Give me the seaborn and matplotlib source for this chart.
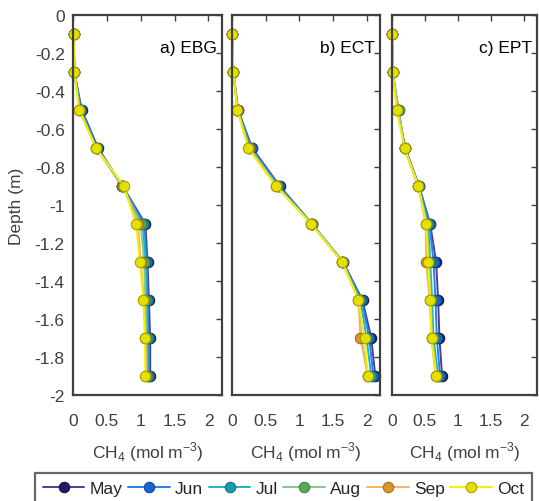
import matplotlib
matplotlib.use("Agg")
import matplotlib.pyplot as plt
import numpy as np
import pandas as pd
import seaborn as sns

# Sampling depths (m)
depths = [-0.1, -0.3, -0.5, -0.7, -0.9, -1.1, -1.3, -1.5, -1.7, -1.9]
months = ["May", "Jun", "Jul", "Aug", "Sep", "Oct"]
sites = ["a) EBG", "b) ECT", "c) EPT"]

# CH4 concentration profiles (mol m-3), one list per month
ebg_may = [0.01, 0.02, 0.13, 0.37, 0.73, 1.07, 1.10, 1.12, 1.14, 1.14]
ebg_jun = [0.01, 0.02, 0.12, 0.36, 0.73, 1.05, 1.09, 1.10, 1.12, 1.12]
ebg_jul = [0.01, 0.02, 0.11, 0.35, 0.72, 1.03, 1.07, 1.09, 1.10, 1.11]
ebg_aug = [0.01, 0.02, 0.10, 0.34, 0.73, 1.00, 1.05, 1.07, 1.08, 1.09]
ebg_sep = [0.01, 0.02, 0.09, 0.34, 0.74, 0.96, 1.00, 1.05, 1.07, 1.08]
ebg_oct = [0.01, 0.02, 0.09, 0.34, 0.75, 0.93, 0.99, 1.04, 1.06, 1.07]

ect_may = [0.00, 0.02, 0.09, 0.30, 0.71, 1.19, 1.65, 1.94, 2.07, 2.13]
ect_jun = [0.00, 0.02, 0.09, 0.29, 0.70, 1.19, 1.65, 1.93, 2.04, 2.10]
ect_jul = [0.00, 0.02, 0.08, 0.27, 0.68, 1.19, 1.64, 1.91, 2.00, 2.07]
ect_aug = [0.00, 0.02, 0.08, 0.26, 0.67, 1.18, 1.64, 1.89, 1.92, 2.02]
ect_sep = [0.00, 0.02, 0.08, 0.25, 0.66, 1.18, 1.64, 1.88, 1.91, 2.02]
ect_oct = [0.00, 0.02, 0.08, 0.24, 0.65, 1.18, 1.64, 1.88, 1.97, 2.02]

ept_may = [0.00, 0.01, 0.09, 0.20, 0.41, 0.58, 0.67, 0.70, 0.72, 0.76]
ept_jun = [0.00, 0.01, 0.09, 0.20, 0.41, 0.57, 0.63, 0.66, 0.68, 0.73]
ept_jul = [0.00, 0.01, 0.10, 0.19, 0.40, 0.55, 0.58, 0.61, 0.63, 0.70]
ept_aug = [0.00, 0.01, 0.10, 0.19, 0.40, 0.53, 0.56, 0.59, 0.61, 0.68]
ept_sep = [0.00, 0.01, 0.08, 0.19, 0.40, 0.51, 0.52, 0.57, 0.60, 0.66]
ept_oct = [0.00, 0.01, 0.07, 0.19, 0.40, 0.52, 0.55, 0.58, 0.60, 0.67]

profiles = {
    "a) EBG": [ebg_may, ebg_jun, ebg_jul, ebg_aug, ebg_sep, ebg_oct],
    "b) ECT": [ect_may, ect_jun, ect_jul, ect_aug, ect_sep, ect_oct],
    "c) EPT": [ept_may, ept_jun, ept_jul, ept_aug, ept_sep, ept_oct],
}

x_ticks = [0, 0.5, 1, 1.5, 2]
x_ticklabels = ["0", "0.5", "1", "1.5", "2"]
y_ticks = [0, -0.2, -0.4, -0.6, -0.8, -1, -1.2, -1.4, -1.6, -1.8, -2]
y_ticklabels = ["0", "-0.2", "-0.4", "-0.6", "-0.8", "-1", "-1.2", "-1.4",
                "-1.6", "-1.8", "-2"]

line_colors = ["#4a3f98", "#2a80e2", "#1db4c8", "#84c884", "#f2b460", "#f4f000"]
face_colors = ["#1c1c66", "#1664cc", "#1a9aaa", "#5aa85a", "#d8962c", "#e4e000"]
edge_colors = ["#12124a", "#0f4a9a", "#117680", "#3e843e", "#a8701c", "#a8a000"]

sns.set_style("white")
plt.rcParams["font.family"] = ["Liberation Sans", "DejaVu Sans"]
plt.rcParams["mathtext.fontset"] = "custom"
plt.rcParams["mathtext.rm"] = "Liberation Sans"

frame_color = "#404040"
text_gray = "#404040"
fs = 12.5

fig = plt.figure(figsize=(5.39, 5.02), dpi=100)
W, H = 539.0, 502.0
panel_px = [(73, 149), (232, 148), (392, 145)]
bottom_px, top_px = 396, 16

records = []
for site in sites:
    for m, vals in zip(months, profiles[site]):
        for d, v in zip(depths, vals):
            records.append({"site": site, "month": m, "depth": d, "ch4": v})
df = pd.DataFrame(records)

axes = []
for i, site in enumerate(sites):
    left, width = panel_px[i]
    ax = fig.add_axes([left / W, (H - bottom_px) / H, width / W,
                       (bottom_px - top_px) / H])
    axes.append(ax)
    sub = df[df["site"] == site]
    for j, m in enumerate(months):
        d = sub[sub["month"] == m]
        sns.lineplot(data=d, x="ch4", y="depth", sort=False, estimator=None,
                     orient="y", ax=ax, color=line_colors[j], lw=1.4,
                     marker="o", markersize=7.5, mfc=face_colors[j],
                     mec=edge_colors[j], mew=0.8, clip_on=False,
                     label=m if i == 0 else None, legend=False)
    ax.set_xlim(0, 2.2)
    ax.set_ylim(-2, 0)
    ax.set_xticks(x_ticks)
    ax.set_xticklabels(x_ticklabels)
    ax.set_yticks(y_ticks)
    if i == 0:
        ax.set_yticklabels(y_ticklabels)
        ax.set_ylabel("Depth (m)", fontsize=fs, color=text_gray)
        ax.yaxis.set_label_coords(-0.33, 0.5)
    else:
        ax.set_yticklabels([])
        ax.set_ylabel("")
    ax.set_xlabel(r"CH$_4$ (mol m$^{-3}$)", fontsize=fs, color=text_gray)
    ax.xaxis.set_label_coords(0.5, -0.118)
    ax.tick_params(axis="both", direction="in", length=4, width=1.0,
                   colors=frame_color, labelsize=fs, labelcolor=text_gray,
                   top=True, right=True)
    ax.tick_params(axis="x", pad=13)
    ax.tick_params(axis="y", pad=6)
    for sp in ax.spines.values():
        sp.set_color(frame_color)
        sp.set_linewidth(1.6)
    ax.text(0.965, 0.915, site, transform=ax.transAxes, ha="right", va="center",
            fontsize=fs, color="black")
    ax.grid(False)

handles, labels = axes[0].get_legend_handles_labels()
leg_h = 0.05
leg = fig.legend(handles, labels, loc="upper left", ncol=6,
                 bbox_to_anchor=(35 / W, 1 - 474 / H - leg_h, 497 / W, leg_h),
                 mode="expand", fontsize=fs, handlelength=2.4,
                 handletextpad=0.3, columnspacing=0.4, borderpad=0.45,
                 frameon=True, fancybox=False, borderaxespad=0)
leg.get_frame().set_edgecolor(frame_color)
leg.get_frame().set_linewidth(1.6)

fig.savefig("out.png", dpi=100)
